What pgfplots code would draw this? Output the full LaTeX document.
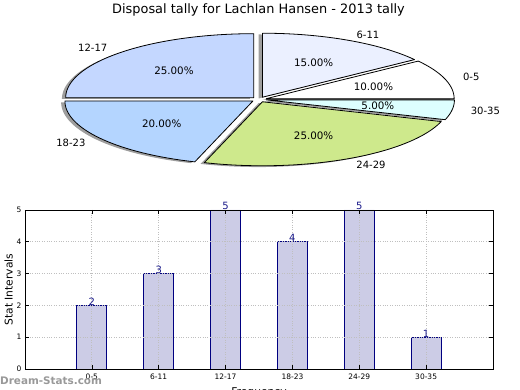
\documentclass[border=0pt]{standalone}
\usepackage{fontspec}
\setmainfont{DejaVu Sans}
\usepackage{pgfplots}
\pgfplotsset{compat=1.18}

\definecolor{c1217}{HTML}{C4D7FF}
\definecolor{c1823}{HTML}{B4D5FF}
\definecolor{c2429}{HTML}{CEE98C}
\definecolor{c3035}{HTML}{DDFFFF}
\definecolor{c05}{HTML}{FFFFFF}
\definecolor{c611}{HTML}{EBF0FF}
\definecolor{barfill}{HTML}{CCCCE6}
\definecolor{baredge}{HTML}{000080}
\definecolor{valtext}{HTML}{1A1A8A}
\definecolor{shadowgray}{gray}{0.62}
\definecolor{wmgray}{gray}{0.6}

\def\pietotal{20}
\def\pieexplode{0.04}
\def\pieangle{90}
\newcommand\pielabelfont{\fontsize{10}{12}\selectfont}
\newcommand\piepctfont{\fontsize{10.3}{12}\selectfont}

% #1 mode (0 shadow, 1 wedge, 2 labels), #2 count, #3 colour, #4 label
\newcommand\pieslice[4]{%
  \pgfmathsetmacro\pieA{\pieangle}%
  \pgfmathsetmacro\pieB{\pieangle+#2/\pietotal*360}%
  \pgfmathsetmacro\pieM{(\pieA+\pieB)/2}%
  \pgfmathsetmacro\pieOX{\pieexplode*cos(\pieM)}%
  \pgfmathsetmacro\pieOY{\pieexplode*sin(\pieM)}%
  \pgfmathsetmacro\pieSX{\pieOX-0.02}%
  \pgfmathsetmacro\pieSY{\pieOY-0.02}%
  \pgfmathsetmacro\pieLX{\pieOX+1.1*cos(\pieM)}%
  \pgfmathsetmacro\pieLY{\pieOY+1.1*sin(\pieM)}%
  \pgfmathsetmacro\piePX{\pieOX+0.6*cos(\pieM)}%
  \pgfmathsetmacro\piePY{\pieOY+0.6*sin(\pieM)}%
  \pgfmathsetmacro\piePct{#2/\pietotal*100}%
  \pgfmathtruncatemacro\pieR{cos(\pieM)>0}%
  \ifnum\pieR=1 \def\pieanc{west}\else\def\pieanc{east}\fi
  \ifcase#1
    \edef\doit{\noexpand\addplot[fill=shadowgray, draw=none, domain=\pieA:\pieB, samples=90] ({\pieSX+cos(x)},{\pieSY+sin(x)}) -- (axis cs:\pieSX,\pieSY) -- cycle;}%
  \or
    \edef\doit{\noexpand\addplot[fill=#3, draw=black, line width=0.8pt, line join=round, domain=\pieA:\pieB, samples=90] ({\pieOX+cos(x)},{\pieOY+sin(x)}) -- (axis cs:\pieOX,\pieOY) -- cycle;}%
  \or
    \edef\doit{\noexpand\node[anchor=\pieanc, inner sep=0pt, font=\noexpand\pielabelfont] at (axis cs:\pieLX,\pieLY) {#4};
      \noexpand\node[inner sep=0pt, font=\noexpand\piepctfont] at (axis cs:\piePX,\piePY) {\noexpand\pgfmathprintnumber[fixed,fixed zerofill,precision=2,assume math mode=true]{\piePct}\noexpand\%};}%
  \fi
  \doit
  \xdef\pieangle{\pieB}%
}
\newcommand\piepass[1]{%
  \xdef\pieangle{90}%
  \pieslice{#1}{5}{c1217}{12-17}%
  \pieslice{#1}{4}{c1823}{18-23}%
  \pieslice{#1}{5}{c2429}{24-29}%
  \pieslice{#1}{1}{c3035}{30-35}%
  \pieslice{#1}{2}{c05}{0-5}%
  \pieslice{#1}{3}{c611}{6-11}%
}

\begin{document}
\begin{tikzpicture}[x=1pt,y=1pt]
\path[use as bounding box] (0,0) rectangle (520,390);

% title
\node[anchor=base, inner sep=0pt, font=\fontsize{12.9}{15}\selectfont] at (258.5,376) {Disposal tally for Lachlan Hansen - 2013 tally};

% pie
\begin{axis}[
  at={(259pt,290.5pt)}, anchor=center,
  scale only axis, width=526.4pt, height=179.2pt,
  xmin=-1.4, xmax=1.4, ymin=-1.4, ymax=1.4,
  axis lines=none, clip=false,
]
\piepass{0}
\piepass{1}
\piepass{2}
\end{axis}

% bar chart
\begin{axis}[
  at={(25pt,21pt)}, anchor=south west,
  scale only axis, width=468pt, height=159pt,
  xmin=-1, xmax=6, ymin=0, ymax=5,
  xtick={0,1,2,3,4,5},
  xticklabels={0-5,6-11,12-17,18-23,24-29,30-35},
  ytick={0,1,2,3,4,5},
  tick align=inside, major tick length=4pt,
  tick style={black, line width=0.6pt},
  grid=major,
  major grid style={dotted, gray!50, line width=0.9pt},
  axis on top,
  axis line style={line width=0.8pt},
  tick label style={font=\fontsize{7.5}{9}\selectfont},
  /pgf/number format/assume math mode=true,
  xticklabel style={yshift=-1pt},
  clip=false,
  xlabel={Frequency},
  ylabel={Stat Intervals},
  every axis x label/.style={at={(axis description cs:0.5,0)}, anchor=north, yshift=-15pt, font=\fontsize{10.7}{12}\selectfont},
  every axis y label/.style={at={(axis description cs:-0.0348,0.5)}, anchor=center, rotate=90, font=\fontsize{10.7}{12}\selectfont},
  nodes near coords,
  nodes near coords style={font=\fontsize{10}{12}\selectfont, text=valtext, anchor=base, inner sep=0pt},
]
\addplot[ybar, bar width=0.45, fill=barfill, draw=baredge, line width=0.8pt]
  coordinates {(0,2) (1,3) (2,5) (3,4) (4,5) (5,1)};
\end{axis}

% watermark
\node[anchor=base west, inner sep=0pt, text=wmgray, font=\bfseries\fontsize{10.4}{12}\selectfont] at (0,5) {Dream-Stats.com};
\end{tikzpicture}
\end{document}
